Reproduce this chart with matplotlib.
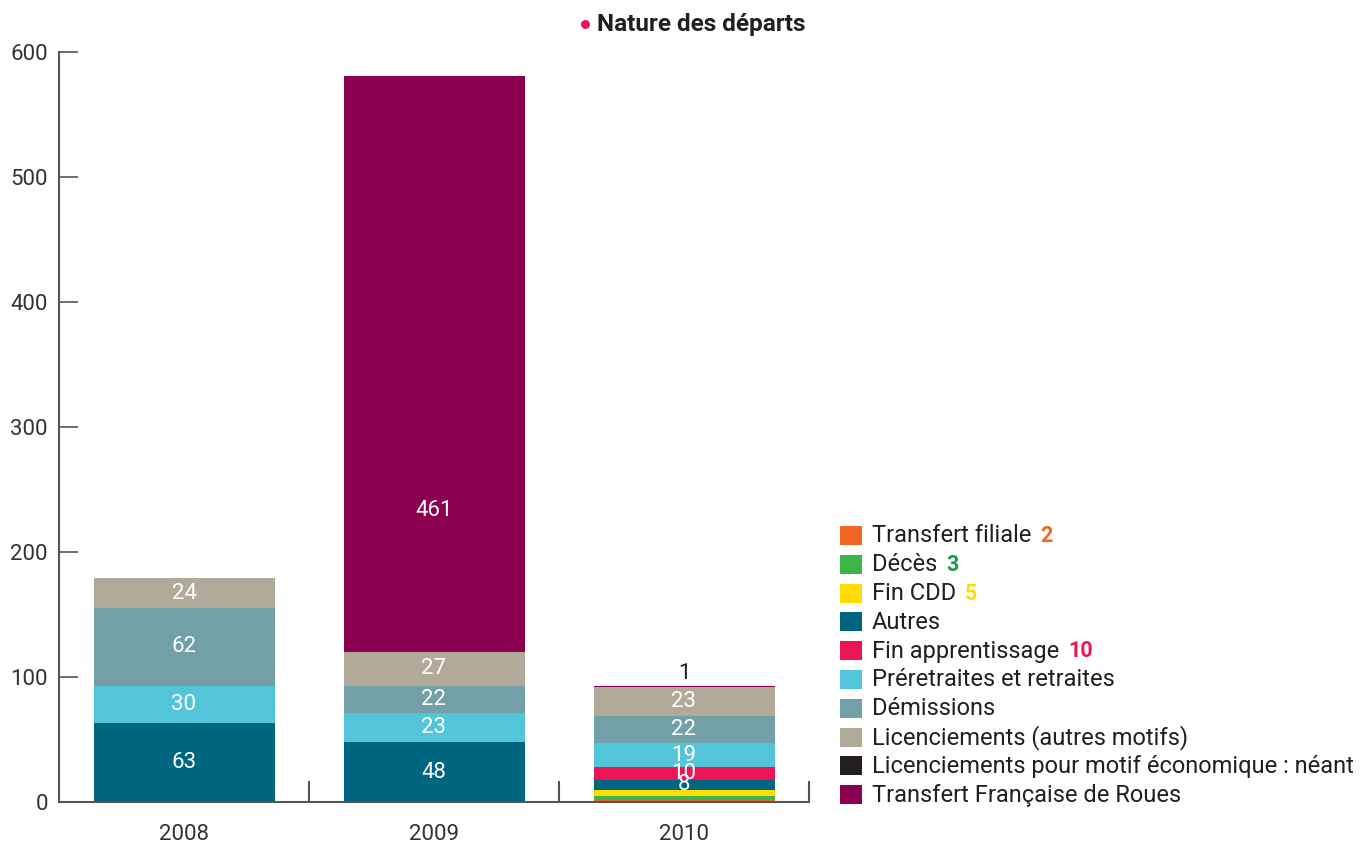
import numpy as np
import matplotlib
matplotlib.use("Agg")
import matplotlib.pyplot as plt
from matplotlib.patches import Rectangle
from matplotlib.lines import Line2D

plt.rcParams['font.family'] = ['Roboto', 'DejaVu Sans']

years = ['2008', '2009', '2010']

# stack order, bottom to top
categories = ['Transfert filiale', 'Décès', 'Fin CDD', 'Autres', 'Fin apprentissage',
              'Préretraites et retraites', 'Démissions', 'Licenciements (autres motifs)',
              'Licenciements pour motif économique : néant', 'Transfert Française de Roues']
colors = ['#f26522', '#3cb64a', '#ffdd00', '#00657f', '#ee1556',
          '#52c6d8', '#73a0a7', '#b2aa98', '#231f20', '#8c0050']

transfert_filiale = [0, 0, 2]
deces = [0, 0, 3]
fin_cdd = [0, 0, 5]
autres = [63, 48, 8]
fin_apprentissage = [0, 0, 10]
preretraites = [30, 23, 19]
demissions = [62, 22, 22]
licenciements = [24, 27, 23]
licenciements_eco = [0, 0, 0]
transfert_fdr = [0, 461, 1]

series = [transfert_filiale, deces, fin_cdd, autres, fin_apprentissage,
          preretraites, demissions, licenciements, licenciements_eco, transfert_fdr]

# small values shown in the legend instead of inside the bar
legend_values = {'Transfert filiale': ('2', '#f26522'), 'Décès': ('3', '#1a9b48'),
                 'Fin CDD': ('5', '#ffdd00'), 'Fin apprentissage': ('10', '#ee1556')}

fig = plt.figure(figsize=(13.6, 8.44), dpi=100)
ax = fig.add_axes([59/1360, 1 - 802/844, 750/1360, 750/844])

x = np.arange(len(years))
bottom = np.zeros(len(years))
for name, vals, col in zip(categories, series, colors):
    vals = np.array(vals, dtype=float)
    ax.bar(x, vals, 0.724, bottom=bottom, color=col, linewidth=0)
    for i, v in enumerate(vals):
        if v == 0:
            continue
        if name == 'Transfert Française de Roues' and v < 5:
            ax.text(x[i], bottom[i] + v + 10, str(int(v)), ha='center', va='center',
                    fontsize=16, color='#231f20')
        elif name == 'Transfert Française de Roues':
            # the big label sits lower than the middle of its segment
            ax.text(x[i], bottom[i] + v * 0.245, str(int(v)), ha='center', va='center',
                    fontsize=16, color='white')
        elif v >= 8:
            ax.text(x[i], bottom[i] + v / 2, str(int(v)), ha='center', va='center',
                    fontsize=16, color='white')
    bottom += vals

ax.set_xlim(-0.5, 2.5)
ax.set_ylim(0, 600)
ax.set_yticks(range(0, 601, 100))
ax.set_xticks(x)
ax.set_xticklabels(years)
ax.set_xticks([0.5, 1.5, 2.5], minor=True)

for s in ['top', 'right']:
    ax.spines[s].set_visible(False)
for s in ['left', 'bottom']:
    ax.spines[s].set_color('#555555')
    ax.spines[s].set_linewidth(1.5)

ax.tick_params(axis='y', direction='in', length=14, width=1.2, color='#555555',
               labelsize=16, labelcolor='#333333', pad=8)
ax.tick_params(axis='x', which='major', length=0, labelsize=16, labelcolor='#333333', pad=16)
ax.tick_params(axis='x', which='minor', direction='in', length=15, width=1.5, color='#555555')

# title with a pink bullet
fig.add_artist(Line2D([585/1360], [1 - 24/844], marker='o', markersize=5.5,
                      color='#ee1556', linestyle='none', transform=fig.transFigure))
fig.text(597/1360, 1 - 24/844, 'Nature des départs', color='#231f20', fontsize=17.5,
         fontweight='bold', ha='left', va='center')

# legend
y0 = 535
dy = 28.8
fig.canvas.draw()
renderer = fig.canvas.get_renderer()
for k, (name, col) in enumerate(zip(categories, colors)):
    yc = y0 + k * dy
    fig.add_artist(Rectangle((840/1360, 1 - (yc + 10)/844), 22/1360, 19/844,
                             transform=fig.transFigure, color=col, linewidth=0))
    t = fig.text(872/1360, 1 - (yc + 1)/844, name, fontsize=17, color='#231f20',
                 ha='left', va='center')
    if name in legend_values:
        val, vcol = legend_values[name]
        bb = t.get_window_extent(renderer)
        fig.text((bb.x1 + 9)/1360, 1 - (yc + 1)/844, val, fontsize=15.5, color=vcol,
                 fontweight='bold', ha='left', va='center')

fig.savefig('out.png', dpi=100)
